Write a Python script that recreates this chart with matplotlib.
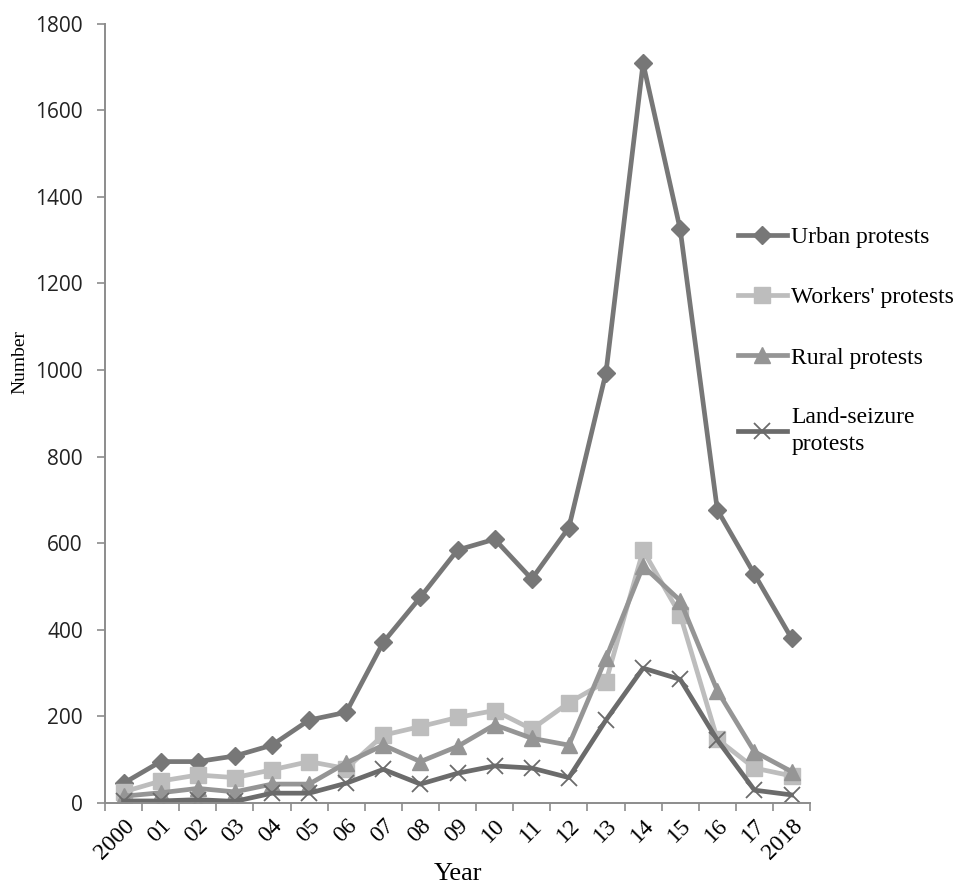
import numpy as np
import matplotlib
matplotlib.use("Agg")
import matplotlib.pyplot as plt
from matplotlib.ticker import MultipleLocator

# data
years = ["2000", "01", "02", "03", "04", "05", "06", "07", "08", "09",
         "10", "11", "12", "13", "14", "15", "16", "17", "2018"]
urban = [45, 95, 95, 108, 133, 191, 209, 371, 475, 584,
         609, 517, 636, 994, 1709, 1325, 677, 528, 380]
workers = [25, 50, 64, 58, 76, 95, 79, 156, 176, 197,
           213, 170, 231, 280, 583, 434, 147, 80, 62]
rural = [15, 23, 33, 25, 43, 43, 92, 133, 95, 130,
         180, 149, 133, 334, 547, 467, 259, 118, 72]
land = [4, 4, 7, 3, 22, 22, 45, 77, 43, 68,
        85, 80, 58, 191, 311, 285, 145, 29, 18]

series = [
    ("Urban protests", urban, "#777777", "D", 9),
    ("Workers' protests", workers, "#bdbdbd", "s", 11),
    ("Rural protests", rural, "#959595", "^", 11),
    ("Land-seizure\nprotests", land, "#6b6b6b", "x", 12),
]

serif = "Liberation Serif"

fig = plt.figure(figsize=(9.58, 8.85), dpi=100)
ax = fig.add_axes([0.1096, 0.093, 0.7360, 0.880])

x = np.arange(len(years))
for name, vals, col, mk, ms in series:
    if mk == "x":
        ax.plot(x, vals, color=col, lw=3.4, marker=mk, ms=ms, mew=1.3, label=name)
    else:
        ax.plot(x, vals, color=col, lw=3.4, marker=mk, ms=ms, mec=col, mfc=col, label=name)

ax.set_xlim(-0.5, len(years) - 0.5)
ax.set_ylim(0, 1800)
ax.yaxis.set_major_locator(MultipleLocator(200))

ax.set_xticks(x)
ax.set_xticklabels(years, rotation=45, ha="right", va="top", rotation_mode="anchor",
                   fontfamily=serif, fontsize=17)
ax.set_xticks(np.arange(-0.5, len(years)), minor=True)
ax.tick_params(axis="x", which="major", length=0, pad=9)
ax.tick_params(axis="x", which="minor", length=6, color="#8c8c8c", width=1.2)
ax.tick_params(axis="y", length=6, color="#8c8c8c", width=1.2, labelsize=15, pad=10)
for lab in ax.get_yticklabels():
    lab.set_fontfamily("Open Sans")
    lab.set_color("#222222")

for s in ["top", "right"]:
    ax.spines[s].set_visible(False)
for s in ["left", "bottom"]:
    ax.spines[s].set_color("#8c8c8c")
    ax.spines[s].set_linewidth(1.4)

ax.set_xlabel("Year", fontfamily=serif, fontsize=19, labelpad=0)
ax.set_ylabel("Number", fontfamily=serif, fontsize=14)
ax.yaxis.set_label_coords(-0.108, 0.566)

leg = fig.legend(loc="upper left", bbox_to_anchor=(0.770, 0.744), frameon=False,
                 prop={"family": serif, "size": 17}, handlelength=2.1,
                 handletextpad=0.17, labelspacing=1.64, borderaxespad=0, borderpad=0)
for t in leg.get_texts():
    t.set_linespacing(1.35)

fig.savefig("out.png", dpi=100)
